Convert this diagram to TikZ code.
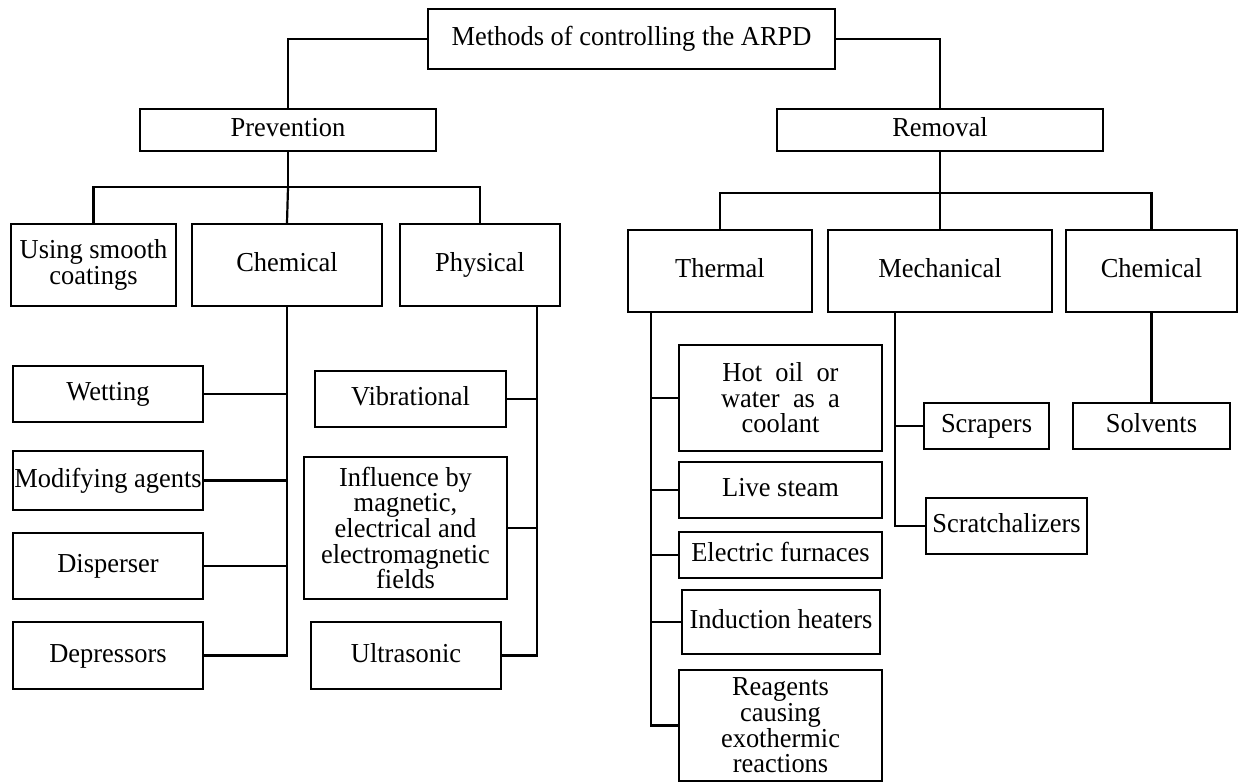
\documentclass[tikz,border=0pt]{standalone}
\usepackage{fontspec}
\setmainfont[FakeStretch=0.965]{Liberation Serif}
\begin{document}
\begin{tikzpicture}[x=0.5pt,y=-0.5pt,
  box/.style={draw=black, line width=1.1pt, rectangle, inner sep=0pt, align=center,
    font=\fontsize{13.7}{12.8}\selectfont, fill=white},
  sl/.style={text height=0.66em, text depth=0pt},
  sz/.style 2 args={minimum width=#1*0.5pt, minimum height=#2*0.5pt},
  conn/.style={draw=black, line width=1.1pt}]
\useasboundingbox[fill=white] (0,0) rectangle (1240,783);
% level 0
\node[box, sl, sz={407}{60}] (top) at (631.5,39) {Methods of controlling the ARPD};
% level 1
\node[box, sl, sz={296}{42}] (prev) at (288,130) {Prevention};
\node[box, sl, sz={326}{42}] (rem) at (940,130) {Removal};
% level 2 prevention
\node[box, sz={165}{82}] (smooth) at (93.5,265) {Using smooth\\coatings};
\node[box, sl, sz={190}{82}] (chemP) at (287,265) {Chemical};
\node[box, sl, sz={160}{82}] (phys) at (480,265) {Physical};
% level 2 removal
\node[box, sl, sz={184}{82}] (thermal) at (720,271) {Thermal};
\node[box, sl, sz={224}{82}] (mech) at (940,271) {Mechanical};
\node[box, sl, sz={171}{82}] (chemR) at (1151.5,271) {Chemical};
% chemical prevention leaves
\node[box, sl, sz={190}{56}] (wet) at (108,394) {Wetting};
\node[box, sl, sz={190}{59}] (modif) at (108,480.5) {Modifying agents};
\node[box, sl, sz={190}{66}] (disp) at (108,566) {Disperser};
\node[box, sl, sz={190}{67}] (depr) at (108,655.5) {Depressors};
% physical leaves
\node[box, sl, sz={191}{56}] (vib) at (410.5,399) {Vibrational};
\node[box, sz={203}{142}] (infl) at (405.5,528) {Influence by\\magnetic,\\electrical and\\electromagnetic\\fields};
\node[box, sl, sz={190}{67}] (ultra) at (406,655.5) {Ultrasonic};
% thermal leaves
\node[box, sz={203}{106}] (hot) at (780.5,398) {Hot\ \ oil\ \ or\\water\ \ as\ \ a\\coolant};
\node[box, sl, sz={203}{56}] (live) at (780.5,490) {Live steam};
\node[box, sl, sz={203}{46}] (elec) at (780.5,555) {Electric furnaces};
\node[box, sl, sz={198}{64}] (induc) at (781,622) {Induction heaters};
\node[box, sz={203}{111}] (reag) at (780.5,725.5) {Reagents\\causing\\exothermic\\reactions};
% mechanical leaves
\node[box, sl, sz={125}{46}] (scrap) at (986.5,426) {Scrapers};
\node[box, sl, sz={161}{56}] (scratch) at (1006.5,526) {Scratchalizers};
% chemical removal leaf
\node[box, sl, sz={157}{46}] (solv) at (1151.5,426) {Solvents};

% helper coordinates
\coordinate (pbar) at (288,187);
\coordinate (rbar) at (940,193);
\coordinate (ph) at (537,306);
\coordinate (th) at (651,312);
\coordinate (mc) at (895,312);

% connectors
\draw[conn] (top.west) -| (prev.north);
\draw[conn] (top.east) -| (rem.north);
\draw[conn] (prev.south) -- (pbar);
\draw[conn] (smooth.north) |- (pbar) -| (phys.north);
\draw[conn] (pbar) -- (chemP.north);
\draw[conn] (rem.south) -- (rbar);
\draw[conn] (thermal.north) |- (rbar) -| (chemR.north);
\draw[conn] (rbar) -- (mech.north);

\draw[conn] (chemP.south) |- (depr.east);
\draw[conn] (wet.east) -- (wet.east -| chemP.south);
\draw[conn] (modif.east) -- (modif.east -| chemP.south);
\draw[conn] (disp.east) -- (disp.east -| chemP.south);

\draw[conn] (ph) |- (ultra.east);
\draw[conn] (vib.east) -- (vib.east -| ph);
\draw[conn] (infl.east) -- (infl.east -| ph);

\draw[conn] (th) |- (reag.west);
\draw[conn] (hot.west) -- (hot.west -| th);
\draw[conn] (live.west) -- (live.west -| th);
\draw[conn] (elec.west) -- (elec.west -| th);
\draw[conn] (induc.west) -- (induc.west -| th);

\draw[conn] (mc) |- (scratch.west);
\draw[conn] (scrap.west) -- (scrap.west -| mc);

\draw[conn] (chemR.south) -- (solv.north);
\end{tikzpicture}
\end{document}
